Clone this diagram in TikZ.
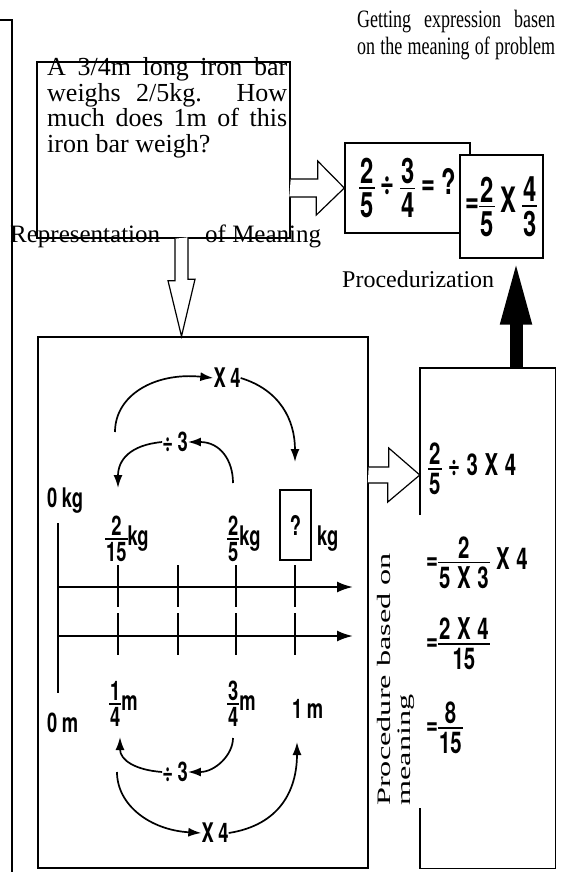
\documentclass[tikz,border=0pt]{standalone}
\usepackage{amsmath}
\usepackage{fontspec}
\setmainfont{Liberation Serif}
\newfontfamily\cond[FakeStretch=0.68]{TeX Gyre Heros}
\newfontfamily\narrowserif[FakeStretch=0.72]{Liberation Serif}
\newfontfamily\wideserif[FakeStretch=1.7]{Liberation Serif}
\usetikzlibrary{arrows.meta,calc}
\newcommand{\condbf}{\cond\bfseries}
% stacked fraction in the current text font
\newcommand{\frc}[2]{\ensuremath{\vcenter{\offinterlineskip
  \halign{\hfil##\hfil\cr\hbox{\kern1pt#1\kern1pt}\cr
  \noalign{\kern0.11em\hrule height1.5pt\kern0.11em}
  \hbox{\kern1pt#2\kern1pt}\cr}}}}
\newcommand{\opgap}{\hspace{0.22em}}

\begin{document}
\begin{tikzpicture}[x=1pt,y=-1pt,
    boxed/.style={draw,line width=1.4pt,inner sep=0pt},
    hollow/.style={draw,fill=white,line width=1.2pt,line join=miter},
    curvearrow/.style={line width=1.7pt,-{Latex[length=13pt,width=9pt]}},
    numline/.style={line width=2.2pt,-{Latex[length=16pt,width=11pt]}},
    tickmark/.style={line width=1.7pt},
    lbl/.style={font=\condbf\fontsize{27}{30}\selectfont,inner sep=0pt},
    eq/.style={font=\condbf\fontsize{30}{32}\selectfont,inner sep=0pt},
    bigeq/.style={font=\condbf\fontsize{35}{36}\selectfont}]
\useasboundingbox (0,0) rectangle (562,872);

% left rule
\draw[line width=1.3pt] (0,20) -- (12,20) -- (12,872);

% problem statement
\node[boxed,minimum width=253pt,minimum height=176pt] (prob) at (163.5,150) {};
\node[anchor=base west,inner sep=0pt,font=\fontsize{26}{25.5}\selectfont] (probtxt) at (47,76)
  {\parbox[t]{240pt}{\makebox[\linewidth][s]{A 3/4m long iron bar}\\
   \makebox[\linewidth][s]{weighs 2/5kg. How}\\
   \makebox[\linewidth][s]{much does 1m of this}\\
   iron bar weigh?}};

% heading top right
\node[anchor=base west,inner sep=0pt,font=\narrowserif\fontsize{25}{27}\selectfont] (head) at (357,28)
  {\parbox[t]{198pt}{\makebox[\linewidth][s]{Getting expression basen}\\
   \makebox[\linewidth][s]{on the meaning of problem}}};

% expressions
\node[boxed,bigeq,minimum width=125pt,minimum height=90pt] (box2) at (407.5,188)
  {\frc{2}{5}\,÷\,\frc{3}{4}\,=\,?\hspace{8pt}};
\node[boxed,bigeq,fill=white,minimum width=83pt,minimum height=103pt] (box3) at (501.5,206.5)
  {=\frc{2}{5}\,X\,\frc{4}{3}};

\node[anchor=base west,inner sep=0pt,font=\fontsize{25}{25}\selectfont] (rep) at (10,242)
  {Representation\hspace{45pt}of Meaning};
\node[anchor=base west,inner sep=0pt,font=\fontsize{24}{24}\selectfont] (proc) at (342,287) {Procedurization};

% big box and right box
\node[boxed,minimum width=330pt,minimum height=531pt] (bigbox) at (203,602.5) {};
\node[minimum width=135pt,minimum height=500pt,inner sep=0pt] (rbox) at (487.5,618) {};
\draw[line width=1.4pt] (rbox.west |- 0,515) -- (rbox.north west) -- (rbox.north east)
  -- (rbox.south east) -- (rbox.south west) -- (rbox.west |- 0,808);

\node[rotate=90,anchor=north west,inner sep=0pt,align=left,font=\wideserif\fontsize{19}{20}\selectfont] (pbm)
  at (377,806) {Procedure based on\\meaning};

% hollow arrows
\draw[hollow] (prob.east |- box2.west) ++(0,-9) -- ++(27,0) -- ++(0,-18) -- (box2.west)
  -- ++(-28,27) -- ++(0,-18) -- ++(-27,0);
\coordinate (dn) at ($(prob.south)+(18,0)$);
\draw[hollow] (dn) ++(-6.5,0) -- ++(0,42) -- ++(-7,0) -- (dn |- bigbox.north)
  -- ++(13.5,-57) -- ++(-7,0) -- ++(0,-42);
\coordinate (rt) at (bigbox.east |- 0,475);
\draw[hollow] (rt) ++(0,-8) -- ++(20,0) -- ++(0,-19) -- (rbox.west |- rt)
  -- ++(-32,27) -- ++(0,-19) -- ++(-20,0);

% black arrow
\coordinate (up) at ($(rbox.north)+(28.5,0)$);
\draw[line width=13pt,-{Triangle[length=66pt,width=28pt]}] (up) -- (up |- box3.south);

% number lines
\draw[line width=2.2pt] (58,523) -- (58,693);
\draw[numline] (58,587) -- (353,587);
\draw[numline] (58,636) -- (353,636);
\foreach \tx in {118,178,236,295}{
  \draw[tickmark] (\tx,565) -- (\tx,607);
  \draw[tickmark] (\tx,613) -- (\tx,655);
}

% weights
\node[lbl,anchor=base west] (kg0) at (47,507) {0\,kg};
\node[lbl,anchor=base west] (fA) at (105,545) {\frc{2}{15}kg};
\node[lbl,anchor=base west] (fB) at (227,545) {\frc{2}{5}kg};
\node[boxed,lbl,minimum width=31pt,minimum height=70pt] (qbox) at (295.5,525) {?};
\node[lbl,anchor=base west] (kgq) at (317,545) {kg};

% lengths
\node[lbl,anchor=base west] (mA) at (109,710) {\frc{1}{4}m};
\node[lbl,anchor=base west] (mB) at (227,710) {\frc{3}{4}m};
\node[lbl,anchor=base west] (m1) at (292,718) {1\,m};
\node[lbl,anchor=base west] (m0) at (47,732) {0\,m};

% operators on the arcs
\node[lbl] (x4a) at (227,378) {X\,4};
\node[lbl] (d3a) at (175,442) {÷\,3};
\node[lbl] (d3b) at (175,772) {÷\,3};
\node[lbl] (x4b) at (215,833) {X\,4};

\coordinate (c1) at (115,432);
\coordinate (c2) at (295,462);
\coordinate (cA) at (118,488);
\coordinate (cB) at (233,483);
\coordinate (cC) at (233,738);
\coordinate (cD) at (120,737);
\coordinate (cE) at (117,772);
\coordinate (cF) at (297,742);

\draw[curvearrow] (c1) .. controls (115,395) and (155,372) .. (x4a.west);
\draw[curvearrow] (x4a.east) .. controls (280,390) and (295,420) .. (c2);
\draw[curvearrow] (d3a.west) .. controls (130,445) and (118,460) .. (cA);
\draw[curvearrow] (cB) .. controls (233,460) and (220,442) .. (d3a.east);
\draw[curvearrow] (cC) .. controls (233,755) and (215,772) .. (d3b.east);
\draw[curvearrow] (d3b.west) .. controls (135,770) and (120,760) .. (cD);
\draw[curvearrow] (cE) .. controls (117,805) and (150,830) .. (x4b.west);
\draw[curvearrow] (x4b.east) .. controls (280,825) and (297,790) .. (cF);

% procedure based on meaning
\node[eq,anchor=base west] (r1) at (428,475) {\frc{2}{5}\opgap÷\opgap3\opgap X\opgap4};
\node[eq,anchor=base west] (r2) at (426,569) {=\frc{2}{5\opgap X\opgap3}\opgap X\opgap4};
\node[eq,anchor=base west] (r3) at (426,650) {=\frc{2\opgap X\opgap4}{15}};
\node[eq,anchor=base west] (r4) at (426,734) {=\frc{8}{15}};
\end{tikzpicture}
\end{document}
